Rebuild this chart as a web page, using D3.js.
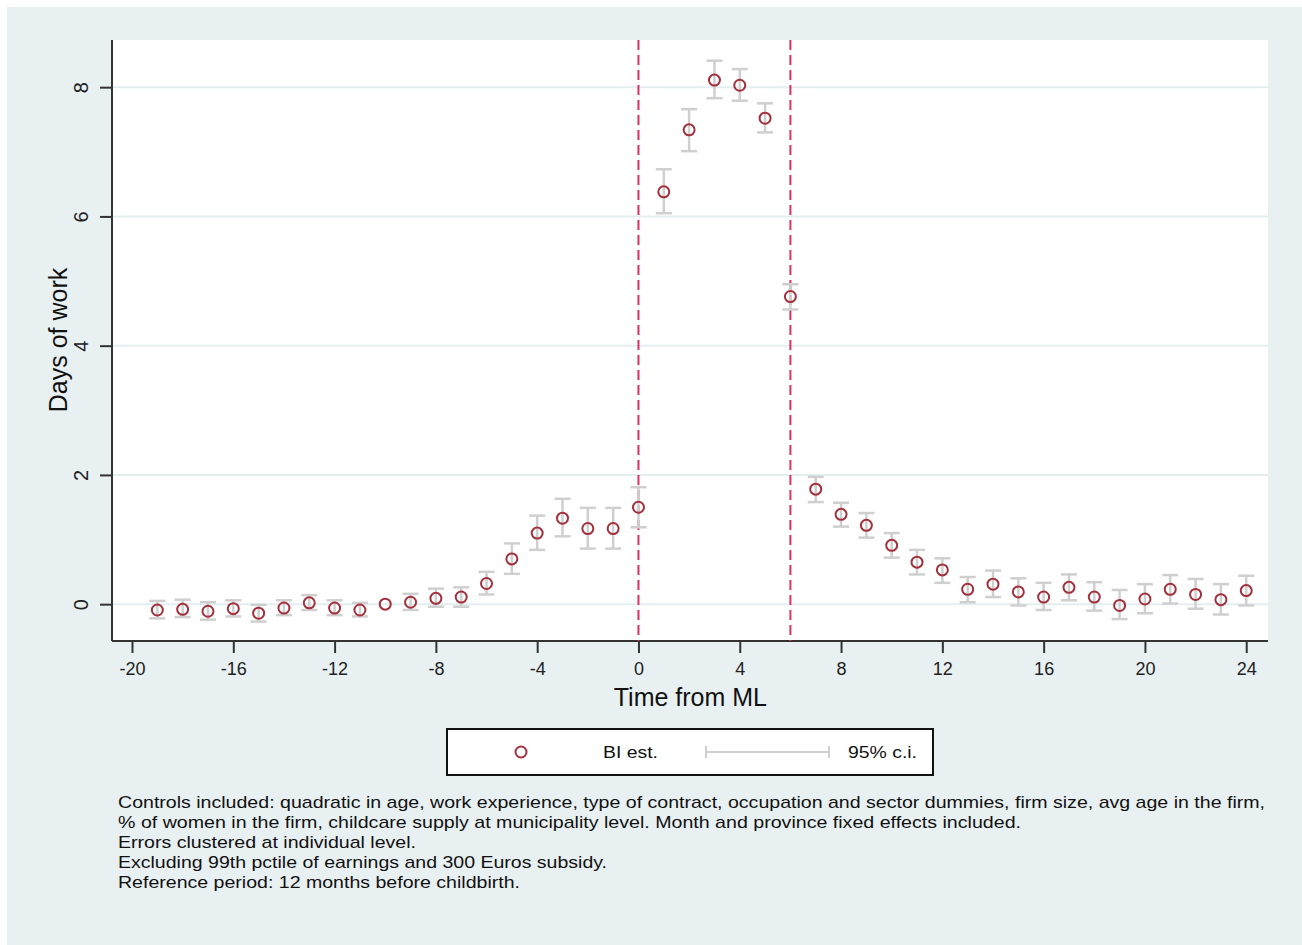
<!DOCTYPE html>
<html>
<head>
<meta charset="utf-8">
<script src="https://cdn.jsdelivr.net/npm/d3@7"></script>
<style>
  body { margin: 0; background: #fff; }
  svg { display: block; font-family: Arial, "Liberation Sans", sans-serif; }
</style>
</head>
<body>
<script>
// months relative to maternity leave
const months = d3.range(-19, 25);
const estimates = [
  -0.09, -0.08, -0.11, -0.07, -0.14, -0.06, 0.02, -0.06, -0.09, 0.00,
  0.03, 0.09, 0.11, 0.32, 0.70, 1.10, 1.33, 1.17, 1.17, 1.50,
  6.38, 7.34, 8.11, 8.03, 7.52, 4.76,
  1.78, 1.39, 1.22, 0.91, 0.65, 0.53, 0.23, 0.31, 0.19, 0.11,
  0.26, 0.11, -0.02, 0.08, 0.23, 0.15, 0.07, 0.21
];
const ciLow = [
  -0.22, -0.20, -0.24, -0.19, -0.27, -0.17, -0.09, -0.17, -0.19, 0.00,
  -0.09, -0.04, -0.04, 0.15, 0.47, 0.84, 1.05, 0.86, 0.86, 1.19,
  6.05, 7.01, 7.83, 7.79, 7.30, 4.56,
  1.58, 1.20, 1.03, 0.72, 0.46, 0.33, 0.03, 0.11, -0.02, -0.09,
  0.06, -0.10, -0.23, -0.14, 0.01, -0.07, -0.16, -0.02
];
const ciHigh = [
  0.05, 0.07, 0.03, 0.06, -0.01, 0.06, 0.14, 0.06, 0.02, 0.00,
  0.16, 0.24, 0.26, 0.50, 0.94, 1.37, 1.63, 1.49, 1.49, 1.81,
  6.73, 7.66, 8.41, 8.28, 7.75, 4.95,
  1.97, 1.57, 1.41, 1.10, 0.84, 0.71, 0.42, 0.52, 0.40, 0.33,
  0.46, 0.34, 0.22, 0.31, 0.45, 0.39, 0.31, 0.44
];
const xTicks = [-20, -16, -12, -8, -4, 0, 4, 8, 12, 16, 20, 24];
const yTicks = [0, 2, 4, 6, 8];
const refLines = [0, 6];
const notes = [
  "Controls included: quadratic in age, work experience, type of contract, occupation and sector dummies, firm size, avg age in the firm,",
  "% of women in the firm, childcare supply at municipality level. Month and province fixed effects included.",
  "Errors clustered at individual level.",
  "Excluding 99th pctile of earnings and 300 Euros subsidy.",
  "Reference period: 12 months before childbirth."
];
const noteWidths = [1147, 903, 298, 489, 402];

const data = months.map((m, i) => ({ m, est: estimates[i], lo: ciLow[i], hi: ciHigh[i] }));

const W = 1302, H = 945;
const plot = { left: 112, top: 40, right: 1268, bottom: 641 };

const svg = d3.select("body").append("svg").attr("width", W).attr("height", H);

svg.append("rect").attr("x", 7).attr("y", 7).attr("width", W - 7).attr("height", H - 7)
  .attr("fill", "#e8f0f2");
svg.append("rect").attr("x", plot.left).attr("y", plot.top)
  .attr("width", plot.right - plot.left).attr("height", plot.bottom - plot.top)
  .attr("fill", "#fff");

const x = d3.scaleLinear().domain([-20.79, 24.86]).range([plot.left, plot.right]);
const y = d3.scaleLinear().domain([-0.57, 8.73]).range([plot.bottom, plot.top]);
const plain = d => String(d); // hyphen minus like the original

// grid
svg.append("g").selectAll("line").data(yTicks).enter().append("line")
  .attr("x1", plot.left).attr("x2", plot.right)
  .attr("y1", d => y(d)).attr("y2", d => y(d))
  .attr("stroke", "#e3eef0").attr("stroke-width", 2);

// axes
const yAxis = svg.append("g").attr("transform", `translate(${plot.left},0)`)
  .call(d3.axisLeft(y).tickValues(yTicks).tickFormat(plain).tickSize(12));
yAxis.select(".domain").attr("d", `M0,${plot.top}V${plot.bottom}`);
yAxis.selectAll(".tick text").attr("transform", "rotate(-90)")
  .attr("x", 0).attr("dy", "0.35em").attr("text-anchor", "middle")
  .attr("y", -31).style("font-size", "20px").attr("fill", "#222");

const xAxis = svg.append("g").attr("transform", `translate(0,${plot.bottom})`)
  .call(d3.axisBottom(x).tickValues(xTicks).tickFormat(plain).tickSize(12).tickPadding(9));
xAxis.select(".domain").attr("d", `M${plot.left},0H${plot.right}`);
xAxis.selectAll(".tick text").style("font-size", "18px").attr("fill", "#222");

svg.selectAll(".domain, .tick line").attr("stroke", "#333").attr("stroke-width", 2);

svg.append("text").attr("transform", `translate(67,340) rotate(-90)`)
  .attr("text-anchor", "middle").style("font-size", "25px").attr("fill", "#111")
  .text("Days of work");
svg.append("text").attr("x", x(2.05)).attr("y", 706)
  .attr("text-anchor", "middle").style("font-size", "25px").attr("fill", "#111")
  .text("Time from ML");

// reference lines
svg.append("g").selectAll("line").data(refLines).enter().append("line")
  .attr("x1", d => x(d)).attr("x2", d => x(d))
  .attr("y1", plot.top).attr("y2", plot.bottom)
  .attr("stroke", "#dc2f62").attr("stroke-width", 2)
  .attr("stroke-dasharray", "10,5");

// confidence intervals
const ci = svg.append("g").attr("stroke", "#cfcfcf").attr("stroke-width", 2.5);
const ciData = data.filter(d => d.hi > d.lo);
ci.selectAll("line.v").data(ciData).enter().append("line").attr("class", "v")
  .attr("x1", d => x(d.m)).attr("x2", d => x(d.m))
  .attr("y1", d => y(d.lo)).attr("y2", d => y(d.hi));
ci.selectAll("line.lo").data(ciData).enter().append("line").attr("class", "lo")
  .attr("x1", d => x(d.m) - 8).attr("x2", d => x(d.m) + 8)
  .attr("y1", d => y(d.lo)).attr("y2", d => y(d.lo));
ci.selectAll("line.hi").data(ciData).enter().append("line").attr("class", "hi")
  .attr("x1", d => x(d.m) - 8).attr("x2", d => x(d.m) + 8)
  .attr("y1", d => y(d.hi)).attr("y2", d => y(d.hi));

// point estimates
svg.append("g").selectAll("circle").data(data).enter().append("circle")
  .attr("cx", d => x(d.m)).attr("cy", d => y(d.est)).attr("r", 5.5)
  .attr("fill", "none").attr("stroke", "#a3303c").attr("stroke-width", 2);

// legend
const lg = svg.append("g");
lg.append("rect").attr("x", 447).attr("y", 729).attr("width", 486).attr("height", 46)
  .attr("fill", "#fff").attr("stroke", "#111").attr("stroke-width", 2);
lg.append("circle").attr("cx", 521).attr("cy", 752).attr("r", 5.5)
  .attr("fill", "none").attr("stroke", "#a3303c").attr("stroke-width", 2);
lg.append("text").attr("x", 603).attr("y", 758).style("font-size", "17px").attr("fill", "#111")
  .attr("textLength", 55).attr("lengthAdjust", "spacingAndGlyphs")
  .text("BI est.");
lg.append("line").attr("x1", 706).attr("x2", 829).attr("y1", 752).attr("y2", 752)
  .attr("stroke", "#cfcfcf").attr("stroke-width", 2);
[706, 829].forEach(px => lg.append("line").attr("x1", px).attr("x2", px)
  .attr("y1", 746).attr("y2", 758).attr("stroke", "#cfcfcf").attr("stroke-width", 2));
lg.append("text").attr("x", 848).attr("y", 758).style("font-size", "17px").attr("fill", "#111")
  .attr("textLength", 69).attr("lengthAdjust", "spacingAndGlyphs")
  .text("95% c.i.");

// notes
svg.append("g").selectAll("text").data(notes).enter().append("text")
  .attr("x", 118).attr("y", (d, i) => 808 + i * 20)
  .attr("textLength", (d, i) => noteWidths[i]).attr("lengthAdjust", "spacingAndGlyphs")
  .style("font-size", "17px").attr("fill", "#111")
  .text(d => d);
</script>
</body>
</html>
